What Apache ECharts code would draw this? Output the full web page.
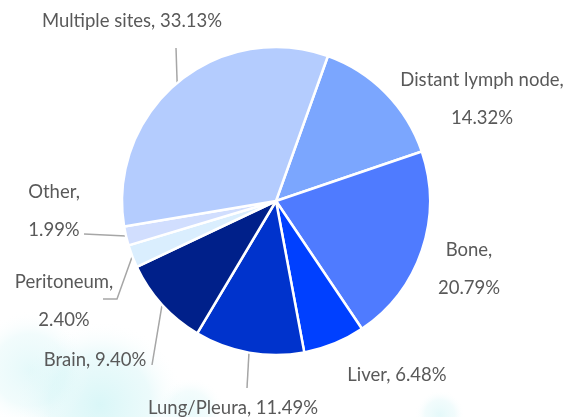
<!DOCTYPE html>
<html>
<head>
<meta charset="utf-8">
<script src="https://cdn.jsdelivr.net/npm/echarts@6/dist/echarts.min.js"></script>
<style>
html,body{margin:0;padding:0;background:#fff;}
#chart{width:573px;height:417px;}
</style>
</head>
<body>
<div id="chart"></div>
<script>
// ---- data ----
const categories = ['Distant lymph node', 'Bone', 'Liver', 'Lung/Pleura', 'Brain', 'Peritoneum', 'Other', 'Multiple sites'];
const percentages = [14.32, 20.79, 6.48, 11.49, 9.40, 2.40, 1.99, 33.13];

// ---- style ----
const sliceColors = ['#7BA6FE', '#4F7BFF', '#0040FF', '#0033CC', '#00208A', '#DAEEFE', '#D1DEFE', '#B4CCFE'];
// label layout: centre of label block, whether to break line, leader line end points (null = none)
const labelLayouts = [
  { x: 482, y: 99,  twoLine: true,  line: null },
  { x: 469, y: 269, twoLine: true,  line: null },
  { x: 397, y: 375, twoLine: false, line: null },
  { x: 233, y: 408, twoLine: false, line: [[247, 388]] },
  { x: 95,  y: 360, twoLine: false, line: [[152, 365]] },
  { x: 64,  y: 301, twoLine: true,  line: [[117, 299], [103, 299]] },
  { x: 54,  y: 211, twoLine: true,  line: [[84, 234]] },
  { x: 132, y: 21,  twoLine: false, line: [[176, 48]] }
];

const chart = echarts.init(document.getElementById('chart'), null, { renderer: 'canvas' });

const seriesData = categories.map((name, i) => ({
  name: name,
  value: percentages[i],
  itemStyle: { color: sliceColors[i] },
  labelLine: { show: !!labelLayouts[i].line }
}));

function wash(cx, cy, rx, ry, alpha) {
  return {
    type: 'ellipse',
    silent: true,
    z: -10,
    shape: { cx: cx, cy: cy, rx: rx, ry: ry },
    style: {
      fill: new echarts.graphic.RadialGradient(0.5, 0.5, 0.5, [
        { offset: 0, color: 'rgba(180,238,240,' + alpha + ')' },
        { offset: 0.6, color: 'rgba(200,242,244,' + (alpha * 0.7) + ')' },
        { offset: 1, color: 'rgba(255,255,255,0)' }
      ])
    }
  };
}

chart.setOption({
  backgroundColor: '#ffffff',
  animation: false,
  graphic: [
    wash(100, 405, 190, 85, 0.5),
    wash(30, 370, 90, 60, 0.35),
    wash(190, 412, 90, 35, 0.3),
    wash(440, 415, 60, 25, 0.35)
  ],
  series: [{
    type: 'pie',
    center: [276, 201],
    radius: [0, 154],
    startAngle: 70.3,
    clockwise: true,
    data: seriesData,
    itemStyle: { borderColor: '#ffffff', borderWidth: 2.5 },
    label: {
      show: true,
      color: '#595959',
      fontFamily: 'Lato',
      fontSize: 18.5,
      lineHeight: 38,
      overflow: 'none',
      width: 300,
      align: 'center',
      formatter: function (p) {
        const L = labelLayouts[p.dataIndex];
        return p.name + ',' + (L.twoLine ? '\n' : ' ') + p.value.toFixed(2) + '%';
      }
    },
    labelLine: {
      show: true,
      lineStyle: { color: '#A6A6A6', width: 1.5 }
    },
    labelLayout: function (params) {
      const L = labelLayouts[params.dataIndex];
      const out = { x: L.x, y: L.y, align: 'center', verticalAlign: 'middle' };
      if (L.line && params.labelLinePoints) {
        out.labelLinePoints = [params.labelLinePoints[0]].concat(L.line);
      }
      return out;
    },
    emphasis: { disabled: true }
  }]
});
</script>
</body>
</html>
